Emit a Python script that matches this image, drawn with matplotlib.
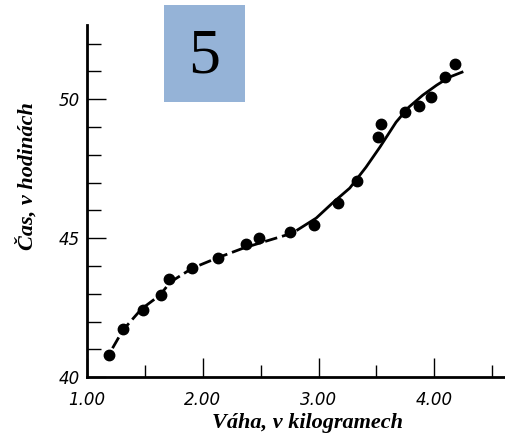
import matplotlib
matplotlib.use("Agg")
import matplotlib.pyplot as plt
from matplotlib.patches import Rectangle
from matplotlib.ticker import MultipleLocator

# measured points
vaha = [1.19, 1.31, 1.48, 1.64, 1.71, 1.91, 2.13, 2.37, 2.49, 2.75, 2.96,
        3.17, 3.33, 3.51, 3.54, 3.75, 3.87, 3.97, 4.09, 4.18]
cas = [40.79, 41.73, 42.41, 42.95, 43.53, 43.92, 44.28, 44.78, 45.0, 45.22, 45.47,
       46.26, 47.05, 48.63, 49.10, 49.53, 49.75, 50.07, 50.79, 51.26]

# hand-drawn fitted curve
krivka_x = [1.22, 1.31, 1.47, 1.63, 1.72, 1.91, 2.12, 2.35, 2.49, 2.72, 2.82,
            2.98, 3.12, 3.27, 3.41, 3.53, 3.67, 3.78, 3.90, 4.02, 4.13, 4.24]
krivka_y = [41.04, 41.69, 42.45, 42.95, 43.42, 43.92, 44.28, 44.64, 44.82, 45.11, 45.30,
            45.72, 46.26, 46.80, 47.55, 48.27, 49.17, 49.71, 50.14, 50.50, 50.79, 50.97]
zlom = 10  # curve is dashed up to this index, solid after

fig = plt.figure(figsize=(5.06, 4.34), dpi=100)
ax = fig.add_axes([0.172, 0.131, 0.828, 0.811])

ax.plot(krivka_x[:zlom + 1], krivka_y[:zlom + 1], color="black", lw=2,
        dashes=(4.5, 1.8), zorder=2)
ax.plot(krivka_x[zlom:], krivka_y[zlom:], color="black", lw=2, zorder=2,
        solid_joinstyle="round")
ax.plot(vaha, cas, "o", color="black", markersize=7.5, zorder=3)

ax.set_xlim(1.0, 4.62)
ax.set_ylim(40, 52.66)

for s in ["top", "right"]:
    ax.spines[s].set_visible(False)
for s in ["left", "bottom"]:
    ax.spines[s].set_linewidth(2)

ax.xaxis.set_major_locator(MultipleLocator(1))
ax.xaxis.set_minor_locator(MultipleLocator(0.5))
ax.yaxis.set_major_locator(MultipleLocator(5))
ax.yaxis.set_minor_locator(MultipleLocator(1))
ax.xaxis.set_major_formatter(lambda v, p: f"{v:.2f}")
ax.yaxis.set_major_formatter(lambda v, p: f"{v:.0f}")

ax.tick_params(which="both", direction="in", width=1, color="black")
ax.tick_params(axis="x", which="major", length=14, pad=10, labelsize=12)
ax.tick_params(axis="x", which="minor", length=9)
ax.tick_params(axis="y", which="major", length=14, pad=5, labelsize=12)
ax.tick_params(axis="y", which="minor", length=10)
for lab in ax.get_xticklabels() + ax.get_yticklabels():
    lab.set_fontstyle("italic")

ax.set_xlabel("Váha, v kilogramech", family="Liberation Serif", style="italic",
              weight="bold", fontsize=16)
ax.set_ylabel("Čas, v hodinách", family="Liberation Serif", style="italic",
              weight="bold", fontsize=16)
ax.xaxis.set_label_coords(0.527, -0.102)
ax.yaxis.set_label_coords(-0.117, 0.571)

fig.patches.append(Rectangle((0.324, 0.765), 0.160, 0.2235, transform=fig.transFigure,
                             facecolor="#95b3d7", edgecolor="none"))
fig.text(0.404, 0.868, "5", family="Liberation Serif", fontsize=46,
         ha="center", va="center")

fig.savefig("out.png", dpi=100)
